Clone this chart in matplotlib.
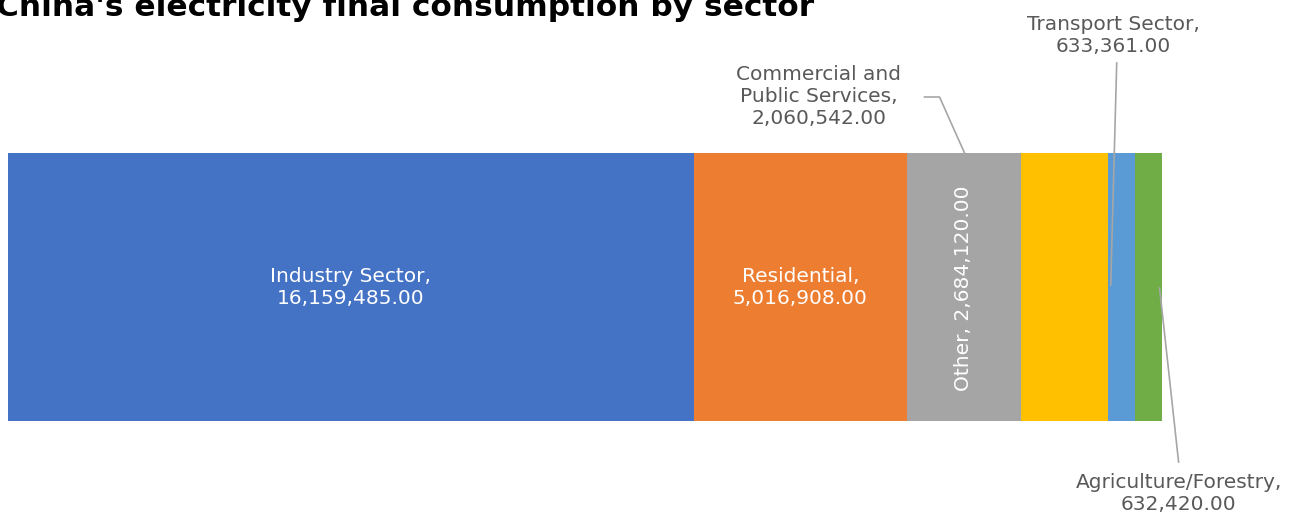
import numpy as np
import matplotlib
matplotlib.use('Agg')
import matplotlib.pyplot as plt

# 各部门电力最终消费量
sectors = ['Industry Sector', 'Residential', 'Other',
           'Commercial and\nPublic Services', 'Transport Sector',
           'Agriculture/Forestry']
values = np.array([16159485, 5016908, 2684120, 2060542, 633361, 632420], dtype=float)
colors = ['#4472C4', '#ED7D31', '#A5A5A5', '#FFC000', '#5B9BD5', '#70AD47']

plt.rcParams['font.family'] = ['DejaVu Sans']

fig = plt.figure(figsize=(12.99, 5.14), dpi=100)
ax = fig.add_axes([0, 0, 1, 1])
ax.axis('off')

total = values.sum()
s = 1154 / total          # 每个单位对应的像素
px = 1 / s                # 每个像素对应的数据单位
ax.set_xlim(-8 * px, 1291 * px)
ax.set_ylim(514, 0)      # y 方向按像素

lefts = np.concatenate([[0], np.cumsum(values)[:-1]])
centers = lefts + values / 2
ax.barh(153, values, left=lefts, height=268, align='edge', color=colors)

def fmt(v):
    return f'{v:,.2f}'

lab_col = '#595959'
line_col = '#A6A6A6'
fs = 14.5
ls = 1.2

# 条形内部标签
for i in (0, 1):
    ax.text(centers[i], 288, f'{sectors[i]},\n{fmt(values[i])}', color='white',
            ha='center', va='center', fontsize=fs, linespacing=ls)
ax.text(centers[2], 288, f'{sectors[2]}, {fmt(values[2])}', color='white',
        ha='center', va='center', rotation=90, fontsize=fs)

# 商业和公共服务（上方，带引导线）
ax.text(centers[3] - 246 * px, 97, f'{sectors[3]},\n{fmt(values[3])}', color=lab_col,
        ha='center', va='center', fontsize=fs, linespacing=ls)
ax.plot([centers[3] - 140 * px, centers[3] - 125 * px, centers[3] - 100 * px],
        [97, 97, 153], color=line_col, lw=1.2)

# 交通
ax.text(centers[4] - 8 * px, 35, f'{sectors[4]},\n{fmt(values[4])}', color=lab_col,
        ha='center', va='center', fontsize=fs, linespacing=ls)
ax.plot([centers[4] - 5 * px, centers[4] - 11 * px], [63, 285], color=line_col, lw=1.2)

# 农业/林业
ax.text(centers[5] + 30 * px, 493, f'{sectors[5]},\n{fmt(values[5])}', color=lab_col,
        ha='center', va='center', fontsize=fs, linespacing=ls)
ax.plot([centers[5] + 11 * px, centers[5] + 30 * px], [288, 462], color=line_col, lw=1.2)

fig.text(-4 / 1299, 1 - 16 / 514, "China's electricity final consumption by sector",
         fontsize=22.5, fontweight='bold', color='black', ha='left', va='baseline')

fig.savefig('out.png', dpi=100)
